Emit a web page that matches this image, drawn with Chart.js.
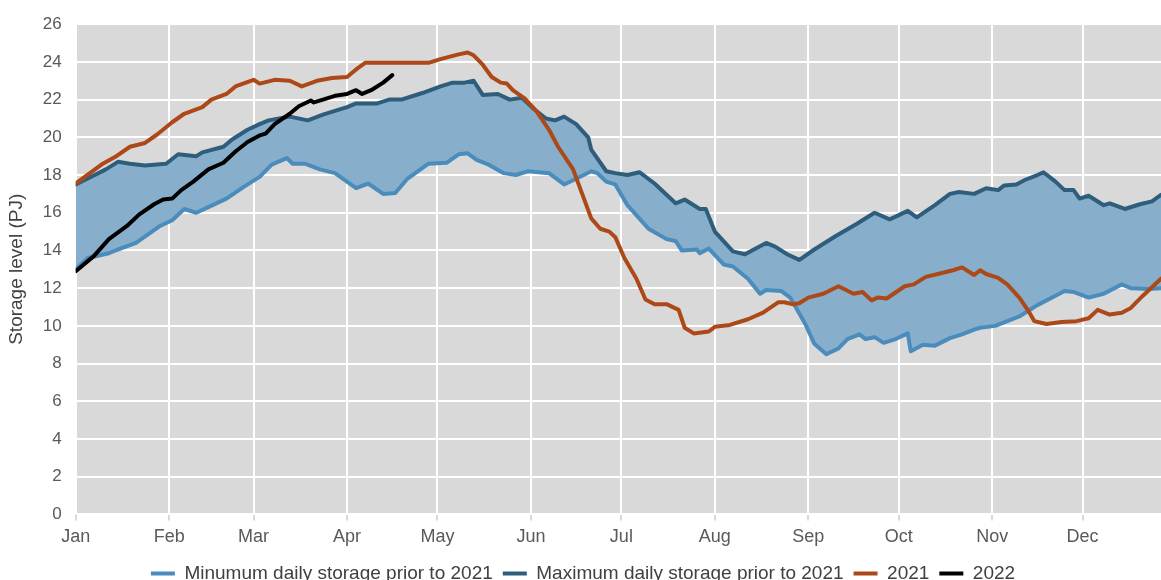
<!DOCTYPE html>
<html>
<head>
<meta charset="utf-8">
<script src="https://cdn.jsdelivr.net/npm/chart.js@4.4.1/dist/chart.umd.min.js"></script>
<style>
  html, body { margin: 0; padding: 0; background: #fff; overflow: hidden; }
  #wrap { width: 1161px; height: 593px; position: relative; }
</style>
</head>
<body>
<div id="wrap"><canvas id="chart"></canvas></div>
<script>
// month ticks (day of year) and labels
const monthStarts = [0, 31, 59, 90, 120, 151, 181, 212, 243, 273, 304, 334];
const monthLabels = ['Jan', 'Feb', 'Mar', 'Apr', 'May', 'Jun', 'Jul', 'Aug', 'Sep', 'Oct', 'Nov', 'Dec'];

// minimum daily storage prior to 2021 (PJ)
const minDays = [0, 4, 11, 14, 20, 28, 32, 36, 40, 44, 50, 56, 61, 65, 70, 72, 76, 81, 86, 93, 97, 102, 106, 110, 117, 123, 127, 130, 133, 137, 142, 146, 150, 157, 162, 166, 171, 173, 176, 179, 183, 190, 196, 199, 201, 206, 207, 210, 215, 218, 223, 227, 229, 234, 237, 239, 242, 245, 249, 253, 256, 260, 262, 265, 268, 272, 276, 277, 281, 285, 290, 294, 298, 300, 305, 309, 313, 319, 325, 328, 331, 336, 341, 347, 350, 356, 360];
const minValues = [13.0, 13.6, 13.85, 14.05, 14.4, 15.3, 15.6, 16.2, 16.0, 16.3, 16.75, 17.4, 17.9, 18.55, 18.9, 18.6, 18.6, 18.3, 18.1, 17.3, 17.55, 17.0, 17.05, 17.8, 18.6, 18.65, 19.1, 19.15, 18.8, 18.55, 18.1, 18.0, 18.2, 18.1, 17.5, 17.8, 18.2, 18.1, 17.65, 17.5, 16.4, 15.15, 14.6, 14.5, 14.0, 14.05, 13.85, 14.1, 13.25, 13.15, 12.5, 11.7, 11.9, 11.85, 11.5, 10.95, 10.1, 9.05, 8.5, 8.8, 9.3, 9.55, 9.3, 9.4, 9.1, 9.3, 9.6, 8.65, 9.0, 8.95, 9.35, 9.55, 9.8, 9.9, 10.0, 10.25, 10.5, 11.1, 11.6, 11.85, 11.8, 11.5, 11.7, 12.2, 12.0, 11.95, 12.0];

// maximum daily storage prior to 2021 (PJ)
const maxDays = [0, 5, 10, 14, 18, 23, 30, 34, 40, 42, 49, 52, 57, 61, 64, 71, 77, 82, 90, 93, 100, 104, 108, 115, 121, 125, 129, 132, 135, 140, 144, 148, 152, 156, 159, 162, 166, 170, 171, 176, 179, 183, 187, 192, 199, 202, 207, 209, 212, 218, 222, 229, 232, 236, 240, 241, 245, 252, 259, 265, 270, 276, 279, 285, 290, 293, 298, 302, 306, 308, 312, 315, 319, 321, 325, 328, 331, 333, 336, 341, 343, 348, 353, 357, 360];
const maxValues = [17.5, 17.9, 18.3, 18.7, 18.6, 18.5, 18.6, 19.1, 19.0, 19.2, 19.5, 19.9, 20.4, 20.7, 20.9, 21.1, 20.9, 21.2, 21.6, 21.8, 21.8, 22.0, 22.0, 22.35, 22.7, 22.9, 22.9, 23.0, 22.25, 22.3, 22.0, 22.1, 21.5, 21.0, 20.9, 21.1, 20.7, 20.0, 19.35, 18.2, 18.1, 18.0, 18.15, 17.55, 16.5, 16.7, 16.2, 16.2, 15.0, 13.95, 13.8, 14.4, 14.2, 13.8, 13.5, 13.6, 14.05, 14.75, 15.4, 16.0, 15.65, 16.1, 15.75, 16.4, 17.0, 17.1, 17.0, 17.3, 17.2, 17.45, 17.5, 17.75, 18.0, 18.15, 17.65, 17.2, 17.2, 16.75, 16.9, 16.4, 16.5, 16.2, 16.45, 16.6, 16.95];

// 2021 (PJ)
const days2021 = [0, 9, 13, 18, 23, 27, 32, 36, 42, 45, 50, 53, 59, 61, 66, 71, 75, 80, 85, 90, 93, 96, 117, 121, 127, 130, 132, 135, 138, 141, 143, 145, 149, 153, 157, 160, 165, 168, 171, 174, 177, 179, 182, 186, 189, 192, 196, 200, 202, 205, 210, 212, 217, 223, 228, 233, 235, 238, 240, 243, 248, 253, 258, 261, 264, 266, 269, 275, 278, 282, 286, 291, 294, 298, 300, 302, 306, 309, 313, 316, 318, 322, 327, 332, 336, 339, 343, 347, 350, 354, 360];
const values2021 = [17.55, 18.6, 18.95, 19.5, 19.7, 20.15, 20.8, 21.25, 21.6, 22.0, 22.3, 22.7, 23.05, 22.85, 23.05, 23.0, 22.7, 23.0, 23.15, 23.2, 23.6, 23.95, 23.95, 24.15, 24.4, 24.5, 24.35, 23.85, 23.2, 22.9, 22.85, 22.5, 22.05, 21.35, 20.4, 19.5, 18.3, 17.0, 15.7, 15.15, 15.0, 14.7, 13.6, 12.5, 11.4, 11.15, 11.15, 10.85, 9.9, 9.6, 9.7, 9.95, 10.05, 10.35, 10.7, 11.25, 11.25, 11.15, 11.2, 11.5, 11.7, 12.1, 11.7, 11.8, 11.35, 11.5, 11.45, 12.1, 12.2, 12.6, 12.75, 12.95, 13.1, 12.7, 12.95, 12.75, 12.55, 12.2, 11.5, 10.8, 10.25, 10.1, 10.2, 10.25, 10.4, 10.85, 10.6, 10.7, 10.95, 11.6, 12.5];

// 2022 (PJ)
const days2022 = [0, 6, 11, 17, 21, 26, 29, 32, 35, 39, 44, 49, 53, 57, 61, 63, 66, 71, 74, 78, 79, 82, 86, 90, 93, 95, 98, 102, 105];
const values2022 = [12.9, 13.7, 14.6, 15.3, 15.9, 16.45, 16.7, 16.75, 17.2, 17.65, 18.3, 18.65, 19.25, 19.75, 20.1, 20.2, 20.7, 21.25, 21.65, 21.95, 21.85, 22.0, 22.2, 22.3, 22.5, 22.3, 22.5, 22.9, 23.3];

const toPoints = (xs, ys) => xs.map((x, i) => ({ x: x, y: ys[i] }));

const plotBackground = {
  id: 'plotBackground',
  beforeDraw(chart) {
    const { ctx, chartArea } = chart;
    ctx.save();
    ctx.fillStyle = '#d9d9d9';
    ctx.fillRect(chartArea.left, chartArea.top, chartArea.right - chartArea.left, chartArea.bottom - chartArea.top);
    ctx.restore();
  }
};

Chart.defaults.font.family = '"Liberation Sans", Arial, sans-serif';
Chart.defaults.color = '#595959';

new Chart(document.getElementById('chart'), {
  type: 'line',
  data: {
    datasets: [
      {
        label: 'Minumum daily storage prior to 2021',
        data: toPoints(minDays, minValues),
        borderColor: '#4a8dbd',
        borderWidth: 4,
        fill: false,
        order: 3
      },
      {
        label: 'Maximum daily storage prior to 2021',
        data: toPoints(maxDays, maxValues),
        borderColor: '#2f5e7c',
        backgroundColor: '#87afcc',
        borderWidth: 4,
        fill: '-1',
        order: 2
      },
      {
        label: '2021',
        data: toPoints(days2021, values2021),
        borderColor: '#ad4918',
        borderWidth: 4,
        fill: false,
        order: 1
      },
      {
        label: '2022',
        data: toPoints(days2022, values2022),
        borderColor: '#000000',
        borderWidth: 4,
        fill: false,
        order: 0
      }
    ]
  },
  plugins: [plotBackground],
  options: {
    responsive: true,
    maintainAspectRatio: false,
    animation: false,
    elements: {
      point: { radius: 0, hoverRadius: 0 },
      line: { tension: 0, borderJoinStyle: 'round', borderCapStyle: 'round' }
    },
    layout: { padding: { top: 10, right: 0, left: 5, bottom: 0 } },
    scales: {
      x: {
        type: 'linear',
        min: 0,
        max: 360,
        afterBuildTicks: (axis) => { axis.ticks = monthStarts.map(v => ({ value: v })); },
        ticks: {
          autoSkip: false,
          maxRotation: 0,
          padding: 6,
          font: { size: 18 },
          callback: (v) => monthLabels[monthStarts.indexOf(v)]
        },
        grid: { color: '#ffffff', lineWidth: 2, tickLength: 6, tickColor: '#d9d9d9' },
        border: { display: false }
      },
      y: {
        min: 0,
        max: 26,
        ticks: { stepSize: 2, padding: 14, font: { size: 17 } },
        grid: { color: '#ffffff', lineWidth: 2, drawTicks: false },
        border: { display: false },
        title: {
          display: true,
          text: 'Storage level (PJ)',
          color: '#404040',
          font: { size: 19 },
          padding: { top: 0, bottom: 1 }
        }
      }
    },
    plugins: {
      filler: { drawTime: 'beforeDatasetsDraw' },
      tooltip: { enabled: false },
      legend: {
        position: 'bottom',
        labels: {
          usePointStyle: true,
          pointStyleWidth: 24,
          padding: 10,
          color: '#404040',
          font: { size: 19, lineHeight: 1 },
          sort: (a, b) => a.datasetIndex - b.datasetIndex,
          generateLabels: (chart) => chart.data.datasets.map((ds, i) => ({
            text: ds.label,
            datasetIndex: i,
            pointStyle: 'line',
            strokeStyle: ds.borderColor,
            fillStyle: ds.borderColor,
            lineWidth: 4,
            fontColor: '#404040',
            hidden: false
          }))
        }
      }
    }
  }
});
</script>
</body>
</html>
